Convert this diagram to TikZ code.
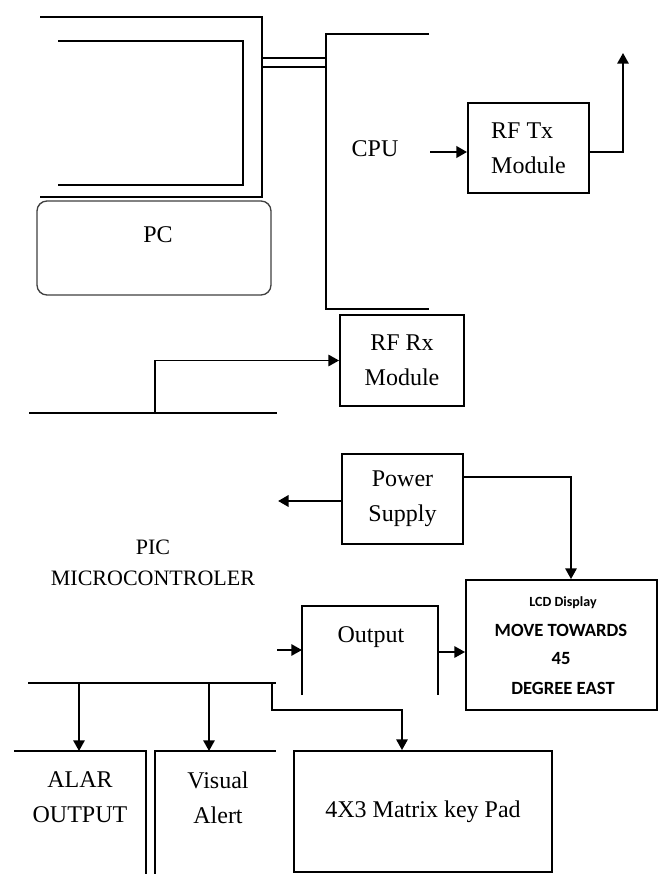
\documentclass[tikz,border=0pt]{standalone}
\usepackage{fontspec}
\setmainfont{Liberation Serif}
\newfontfamily\lcdfont{Carlito}
\usetikzlibrary{arrows.meta}
\begin{document}
\begin{tikzpicture}[x=0.75pt,y=-0.75pt,
  ln/.style={line width=1.4pt},
  box/.style={draw,line width=1.4pt,inner sep=0pt,align=center,font=\fontsize{18}{26}\selectfont},
  arr/.style={line width=1.4pt,-{Triangle[length=8pt,width=8.5pt]}},
  lbl/.style={inner sep=0pt,align=center,font=\fontsize{18}{26}\selectfont},
  lcdtxt/.style={inner sep=0pt,align=center,font=\lcdfont\bfseries\fontsize{14}{16}\selectfont}]
\useasboundingbox (0,0) rectangle (665,874);
\fill[white] (0,0) rectangle (665,874);

% monitor
\draw[ln] (40,17) -- (262,17) -- (262,197) -- (40,197);
\draw[ln] (58,41) -- (243,41) -- (243,185) -- (58,185);
\draw[ln] (262,58) -- (326,58) (262,67) -- (326,67);
% cpu tower
\draw[ln] (429,34) -- (326,34) -- (326,309) -- (429,309);
\node[lbl] (cpu) at (375,149) {CPU};
% pc keyboard box
\node[draw=black!75,line width=1pt,rounded corners=7.5pt,minimum width=175.5pt,minimum height=70.5pt] (pc) at (154,248) {};
\node[lbl] (pct) at (158,235) {PC};

% RF Tx
\node[box,align=left,minimum width=90.75pt,minimum height=67.5pt] (tx) at (528.5,148) {RF Tx\\Module};
\coordinate (cpuo) at (430,152);
\draw[arr,line width=2pt] (cpuo) -- (cpuo -| tx.west);
\coordinate (ant) at (623,53);
\draw[arr] (tx.east |- cpuo) -- (ant |- cpuo) -- (ant);

% RF Rx
\node[box,minimum width=93pt,minimum height=68.25pt] (rx) at (402,360.5) {RF Rx\\Module};
\draw[ln] (29,413) -- (277,413);
\coordinate (rxb) at (155,413);
\draw[arr] (rxb) -- (rxb |- rx.west) -- (rx.west);

% Power supply
\node[box,minimum width=90.75pt,minimum height=67.5pt] (ps) at (402.5,499) {Power\\Supply};
\coordinate (psl) at (278,501);
\draw[arr,line width=2pt] (ps.west |- psl) -- (psl);
\coordinate (psr) at (571,477);

% LCD
\node[draw,line width=1.4pt,minimum width=143.25pt,minimum height=97.5pt] (lcd) at (561.5,645) {};
\node[lcdtxt,font=\lcdfont\bfseries\fontsize{10.5}{12}\selectfont] (l1) at (563,603) {LCD Display};
\node[lcdtxt] (l2) at (561,630) {MOVE TOWARDS};
\node[lcdtxt] (l3) at (561,658) {45};
\node[lcdtxt] (l4) at (563,688) {DEGREE EAST};
\draw[arr] (ps.east |- psr) -- (psr) -- (psr |- lcd.north);

% PIC label
\node[lbl,font=\fontsize{16.5}{23}\selectfont] (pic) at (153,563) {PIC\\MICROCONTROLER};

% Output
\draw[ln] (302,695) -- (302,606) -- (438,606) -- (438,695);
\node[lbl] (out) at (371,637) {Output};
\coordinate (oin) at (277,650);
\coordinate (oinb) at (302,650);
\draw[arr] (oin) -- (oinb);
\coordinate (oo) at (438,652);
\draw[arr] (oo) -- (oo -| lcd.west);

% bus and outputs
\draw[ln] (28,683) -- (276,683);
\coordinate (b1) at (79,683);
\coordinate (e1) at (79,751);
\coordinate (b2) at (209,683);
\coordinate (e2) at (209,751);
\draw[arr] (b1) -- (e1);
\draw[arr] (b2) -- (e2);
\draw[ln] (14,751) -- (146,751) -- (146,874);
\draw[ln] (155,874) -- (155,751) -- (276,751);
\node[lbl] (alar) at (80,797) {ALAR\\OUTPUT};
\node[lbl] (vis) at (218,798) {Visual\\Alert};

% keypad
\node[box,minimum width=193.5pt,minimum height=90.75pt] (kp) at (423,811.5) {4X3 Matrix key Pad};
\coordinate (b3) at (272,683);
\coordinate (kk) at (402,710);
\draw[arr] (b3) -- (b3 |- kk) -- (kk) -- (kk |- kp.north);
\end{tikzpicture}
\end{document}
